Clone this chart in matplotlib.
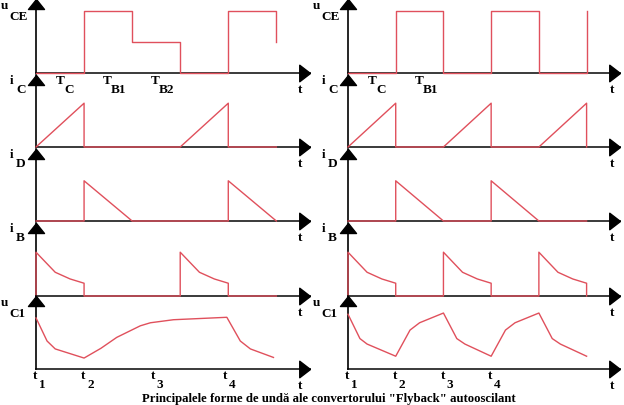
import matplotlib
matplotlib.use("Agg")
import matplotlib.pyplot as plt

W, H = 624, 406
RED = "#e0505c"
FONT = ["Liberation Serif", "DejaVu Serif"]

# waveforms, left diagram (time in half-periods, amplitude in arbitrary units)
uce_t_l = [0, 1, 1, 2, 2, 3, 3, 4, 4, 5, 5]
uce_v_l = [0, 0, 1, 1, 0.5, 0.5, 0, 0, 1, 1, 0.5]
ic_t_l = [0, 1, 1, 3, 4, 4, 5]
ic_v_l = [0, 0.73, 0, 0, 0.73, 0, 0]
id_t_l = [0, 1, 1, 2, 4, 4, 5]
id_v_l = [0, 0, 0.67, 0, 0, 0.67, 0]
ib_t_l = [0, 0, 0.23, 0.4, 0.71, 1, 1, 3, 3, 3.23, 3.4, 3.71, 4, 4, 5]
ib_v_l = [0, 0.72, 0.53, 0.39, 0.28, 0.21, 0, 0, 0.72, 0.53, 0.39, 0.28, 0.21, 0, 0]
uc1_t_l = [0, 0.23, 0.4, 1.0, 1.35, 1.68, 2.17, 2.38, 2.86, 3.97, 4.25, 4.46, 4.94]
uc1_v_l = [0.84, 0.46, 0.33, 0.18, 0.34, 0.52, 0.71, 0.76, 0.81, 0.85, 0.46, 0.33, 0.19]

# waveforms, right diagram
uce_t_r = [0, 1, 1, 2, 2, 3, 3, 4, 4, 5, 5]
uce_v_r = [0, 0, 1, 1, 0, 0, 1, 1, 0, 0, 1]
ic_t_r = [0, 1, 1, 2, 3, 3, 4, 5, 5]
ic_v_r = [0, 0.73, 0, 0, 0.73, 0, 0, 0.73, 0]
id_t_r = [0, 1, 1, 2, 3, 3, 4, 5]
id_v_r = [0, 0, 0.67, 0, 0, 0.67, 0, 0]
ib_t_r = [0, 0, 0.23, 0.4, 0.71, 1, 1, 2, 2, 2.23, 2.4, 2.71, 3, 3,
          4, 4, 4.23, 4.4, 4.71, 5, 5]
ib_v_r = [0, 0.72, 0.53, 0.39, 0.28, 0.21, 0, 0, 0.72, 0.53, 0.39, 0.28, 0.21, 0,
          0, 0.72, 0.53, 0.39, 0.28, 0.21, 0]
uc1_t_r = [0, 0.25, 0.4, 1.0, 1.3, 1.5, 2.0, 2.28, 2.45, 3.0, 3.3, 3.5, 4.0,
           4.28, 4.45, 5.0]
uc1_v_r = [0.90, 0.50, 0.41, 0.21, 0.64, 0.76, 0.92, 0.50, 0.41, 0.21, 0.64, 0.76,
           0.92, 0.50, 0.41, 0.21]

# axis names: (main letter, subscript)
row_names = [("u", "CE"), ("i", "C"), ("i", "D"), ("i", "B"), ("u", "C1")]
marks_l = [("T", "C", 0.42), ("T", "B1", 1.4), ("T", "B2", 2.4)]
marks_r = [("T", "C", 0.42), ("T", "B1", 1.4)]
times_l = [("t", "1", 0.0), ("t", "2", 1.0), ("t", "3", 2.45), ("t", "4", 3.95)]
times_r = [("t", "1", 0.0), ("t", "2", 1.0), ("t", "3", 2.0), ("t", "4", 3.0)]
caption = 'Principalele forme de undă ale convertorului "Flyback" autooscilant'

# layout in pixels
baselines = [74, 148, 222, 297, 370]
tips = [0, 76, 150, 224, 297]
col_x0 = [36, 348]
col_len = [274, 272]
T_MAX = 5.7
Y_MAX = 1.2
FS = 9.5

UP = [(0, 0), (-1, -1.25), (1, -1.25), (0, 0)]
RIGHT = [(0, 0), (-1.3, 1.0), (-1.3, -1.0), (0, 0)]


def px(x, y):
    return x / W, 1 - y / H


def sub_text(fig, x, y, main, sub, dx, dy, size=FS):
    fig.text(*px(x, y), main, fontsize=size, fontweight="bold", family=FONT,
             va="baseline", ha="left")
    fig.text(*px(x + dx, y + dy), sub, fontsize=size, fontweight="bold", family=FONT,
             va="baseline", ha="left")


def draw_panel(fig, col, row, t, v):
    x0, ln = col_x0[col], col_len[col]
    b, top = baselines[row], tips[row]
    ax = fig.add_axes([x0 / W, 1 - b / H, ln / W, (b - top) / H])
    ax.set_xlim(0, T_MAX)
    ax.set_ylim(0, Y_MAX)
    ax.set_axis_off()
    ax.plot([0, T_MAX], [0, 0], color="#3a3a3a", lw=1.4, clip_on=False, zorder=1)
    ax.plot([0, 0], [0, Y_MAX], color="black", lw=1.2, clip_on=False, zorder=1)
    ax.plot(t, v, color=RED, lw=1.0, clip_on=False, zorder=3)
    ax.plot([0], [Y_MAX], marker=UP, ms=14.4, color="black", clip_on=False, zorder=4)
    ax.plot([T_MAX], [0], marker=RIGHT, ms=15.5, color="black", clip_on=False, zorder=4)
    return ax


fig = plt.figure(figsize=(W / 100, H / 100), dpi=100)
fig.patch.set_facecolor("white")

data = [
    [(uce_t_l, uce_v_l), (ic_t_l, ic_v_l), (id_t_l, id_v_l), (ib_t_l, ib_v_l), (uc1_t_l, uc1_v_l)],
    [(uce_t_r, uce_v_r), (ic_t_r, ic_v_r), (id_t_r, id_v_r), (ib_t_r, ib_v_r), (uc1_t_r, uc1_v_r)],
]
steps = [48.0, 47.7]

for col in range(2):
    off = col_x0[col] - 36
    for row in range(5):
        t, v = data[col][row]
        draw_panel(fig, col, row, t, v)
        main, sub = row_names[row]
        b, top = baselines[row], tips[row]
        if main == "u":
            sub_text(fig, 1 + off, top + 9, main, sub, 8, 11)
        else:
            sub_text(fig, 10 + off, top + 8, main, sub, 6, 9)
        # time label at the end of each axis
        fig.text(*px(298 + off, b + 19), "t", fontsize=FS, fontweight="bold",
                 family=FONT, va="baseline", ha="left")

    marks = marks_l if col == 0 else marks_r
    for main, sub, tm in marks:
        x = col_x0[col] + tm * steps[col]
        sub_text(fig, x, 84, main, sub, 8, 9)

    times = times_l if col == 0 else times_r
    for main, sub, tm in times:
        x = col_x0[col] + tm * steps[col] - 3
        sub_text(fig, x, 379, main, sub, 6, 9)

fig.text(*px(329, 402), caption, fontsize=9.2, fontweight="bold", family=FONT,
         ha="center", va="baseline")

fig.savefig("out.png", dpi=100)
